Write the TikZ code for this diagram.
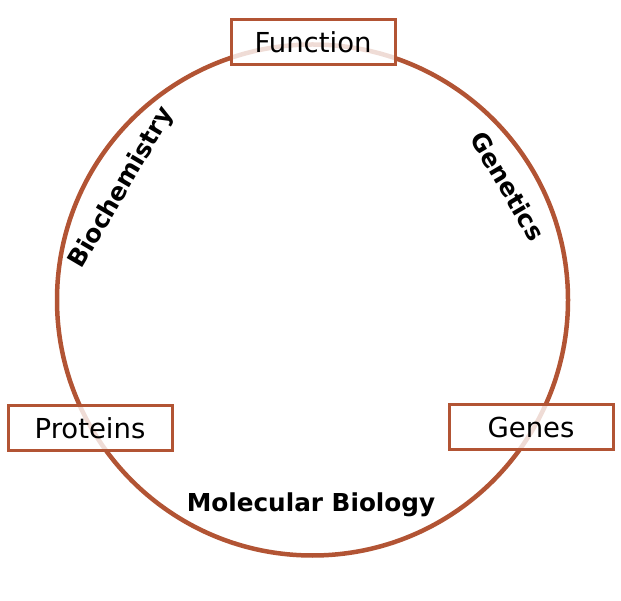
\documentclass[tikz,border=0pt]{standalone}
\usepackage{fontspec}
\setmainfont{DejaVu Sans}
\definecolor{rust}{RGB}{178,84,52}
\begin{document}
\begin{tikzpicture}[x=1pt,y=1pt,
 box/.style={draw=rust, line width=3pt, fill=white, fill opacity=0.8, text opacity=1, minimum width=164pt, minimum height=45pt, inner sep=0pt, font=\fontsize{27.5}{31}\selectfont},
 lbl/.style={font=\bfseries\fontsize{24.7}{28}\selectfont, inner sep=0pt}]
\useasboundingbox (0,0) rectangle (621,600);
\node[circle, draw=rust, line width=4.5pt, minimum size=511pt, inner sep=0pt] (cyc) at (312.5,300) {};
\node[box] (fn) at (313,557.5) {Function};
\node[box] (pr) at (90,171.5) {Proteins};
\node[box] (ge) at (531,172.5) {Genes};
\node[lbl, rotate=59.5] (bio) at (122,412) {Biochemistry};
\node[lbl, rotate=-59.5] (gen) at (508,414) {Genetics};
\node[lbl] (mol) at (311,95) {Molecular Biology};
\end{tikzpicture}
\end{document}
